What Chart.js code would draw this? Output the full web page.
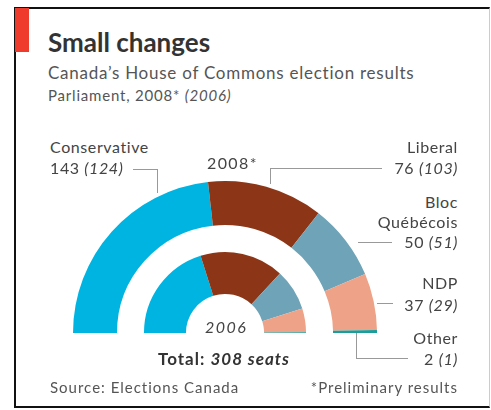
<!DOCTYPE html>
<html>
<head>
<meta charset="utf-8">
<script src="https://cdn.jsdelivr.net/npm/chart.js@4"></script>
<style>
  body { margin: 0; background: #fff; font-family: Lato, "Noto Sans", sans-serif; color: #444; }
  #page { position: relative; width: 491px; height: 410px; overflow: hidden; }
  #frame { position: absolute; left: 14px; top: 7px; width: 476px; height: 401px;
           border-left: 2px solid #111; border-top: 2px solid #111; border-bottom: 2px solid #111;
           border-right: 1px solid #ccc; box-sizing: border-box; }
  #redbar { position: absolute; left: 15px; top: 8px; width: 14px; height: 44px; background: #ef3b2c; }
  .t { position: absolute; white-space: nowrap; line-height: 1; }
  .lab { font-size: 16px; letter-spacing: 0.6px; }
  .r { text-align: right; }
  .ln { position: absolute; background: #999; }
  #box { position: absolute; left: 63px; top: 171px; width: 324px; height: 172px; }
</style>
</head>
<body>
<div id="page">
  <div id="frame"></div>
  <div id="redbar"></div>
  <div class="t" style="left:48px;top:29px;font-size:26px;font-weight:bold;color:#333;">Small changes</div>
  <div class="t" style="left:48px;top:64px;font-size:17px;letter-spacing:0.75px;color:#555;">Canada’s House of Commons election results</div>
  <div class="t" style="left:48px;top:88px;font-size:15px;letter-spacing:0.8px;color:#555;">Parliament, 2008* <i>(2006)</i></div>

  <div id="box"><canvas id="myChart"></canvas></div>

  <div class="t lab" style="left:50px;top:139px;">Conservative</div>
  <div class="t lab" style="left:50px;top:160px;" id="lb0"></div>
  <div class="t lab" style="left:207px;top:155px;letter-spacing:1.4px;">2008*</div>
  <div class="t lab r" style="right:33px;top:139px;">Liberal</div>
  <div class="t lab r" style="right:33px;top:160px;" id="lb1"></div>
  <div class="t lab r" style="right:33px;top:194px;">Bloc</div>
  <div class="t lab r" style="right:33px;top:214px;">Québécois</div>
  <div class="t lab r" style="right:33px;top:234px;" id="lb2"></div>
  <div class="t lab r" style="right:33px;top:275px;">NDP</div>
  <div class="t lab r" style="right:33px;top:297px;" id="lb3"></div>
  <div class="t lab r" style="right:33px;top:330px;">Other</div>
  <div class="t lab r" style="right:33px;top:351px;" id="lb4"></div>
  <div class="t lab" style="left:205px;top:319px;font-style:italic;letter-spacing:1.5px;">2006</div>
  <div class="t" style="left:158px;top:350px;font-size:17px;letter-spacing:1px;font-weight:bold;color:#333;">Total: <i>308 seats</i></div>
  <div class="t" style="left:50px;top:380px;font-size:15px;letter-spacing:1px;color:#555;">Source: Elections Canada</div>
  <div class="t r" style="right:33px;top:380px;font-size:15px;letter-spacing:1px;color:#555;">*Preliminary results</div>

  <!-- leader lines -->
  <div class="ln" style="left:133px;top:169px;width:25px;height:1px;"></div>
  <div class="ln" style="left:157px;top:169px;width:1px;height:24px;"></div>
  <div class="ln" style="left:270px;top:168px;width:112px;height:1px;"></div>
  <div class="ln" style="left:270px;top:168px;width:1px;height:16px;"></div>
  <div class="ln" style="left:358px;top:242px;width:34px;height:1px;"></div>
  <div class="ln" style="left:377px;top:303px;width:16px;height:1px;"></div>
  <div class="ln" style="left:356px;top:333px;width:1px;height:26px;"></div>
  <div class="ln" style="left:356px;top:358px;width:52px;height:1px;"></div>
</div>
<script>
var parties = ["Conservative", "Liberal", "Bloc Québécois", "NDP", "Other"];
var seats2008 = [143, 76, 50, 37, 2];
var seats2006 = [124, 103, 51, 29, 1];
var colours = ["#00b4e1", "#8c3617", "#6fa3b7", "#eea287", "#1a9d9b"];

// value labels: 2008 (2006)
for (var i = 0; i < parties.length; i++) {
    document.getElementById("lb" + i).innerHTML = seats2008[i] + " <i>(" + seats2006[i] + ")</i>";
}

var ctx = document.getElementById('myChart').getContext('2d');
var chart = new Chart(ctx, {
    type: 'doughnut',
    data: {
        labels: parties,
        datasets: [{
            label: '2008',
            data: seats2008,
            backgroundColor: colours,
            borderWidth: 0,
            weight: 44
        },
        {
            // empty ring between the two years
            label: 'gap',
            data: [1],
            backgroundColor: ['rgba(0,0,0,0)'],
            borderWidth: 0,
            weight: 27
        },
        {
            label: '2006',
            data: seats2006,
            backgroundColor: colours,
            borderWidth: 0,
            weight: 42
        }]
    },
    options: {
        responsive: true,
        maintainAspectRatio: false,
        animation: false,
        rotation: -90,
        circumference: 180,
        radius: 152,
        cutout: '25.7%',
        layout: { padding: 0 },
        plugins: {
            legend: { display: false },
            tooltip: { enabled: false }
        },
        events: []
    }
});
</script>
</body>
</html>
